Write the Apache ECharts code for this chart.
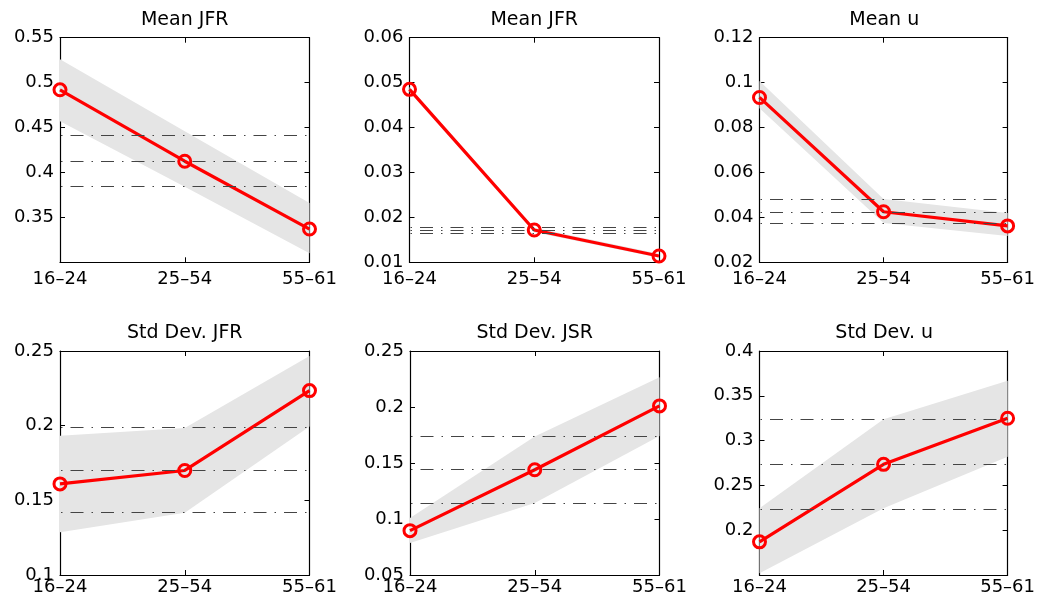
<!DOCTYPE html>
<html>
<head>
<meta charset="utf-8">
<script src="https://cdn.jsdelivr.net/npm/echarts@6/dist/echarts.min.js"></script>
<style>
html,body{margin:0;padding:0;background:#fff;}
#main{width:1038px;height:596px;}
</style>
</head>
<body>
<div id="main"></div>
<script>
// 年龄组
var categories = ['16\u201324', '25\u201354', '55\u201361'];
var titles = ['Mean JFR', 'Mean JFR', 'Mean u', 'Std Dev. JFR', 'Std Dev. JSR', 'Std Dev. u'];

// 模型值
var meanJfrA = [0.492, 0.4125, 0.337];
var meanJfrB = [0.0485, 0.0172, 0.0114];
var meanU = [0.0934, 0.0425, 0.0362];
var sdJfr = [0.161, 0.170, 0.2235];
var sdJsr = [0.0896, 0.144, 0.201];
var sdU = [0.187, 0.2735, 0.325];

// 灰色区间 下沿 / 上沿
var meanJfrALo = [0.457, 0.384, 0.310];
var meanJfrAHi = [0.526, 0.446, 0.366];
var meanJfrBLo = [0.0479, 0.0167, 0.0110];
var meanJfrBHi = [0.0490, 0.0177, 0.0119];
var meanULo = [0.0886, 0.0375, 0.0317];
var meanUHi = [0.1007, 0.0482, 0.0419];
var sdJfrLo = [0.1287, 0.1417, 0.1995];
var sdJfrHi = [0.1933, 0.1984, 0.2467];
var sdJsrLo = [0.0786, 0.1143, 0.1742];
var sdJsrHi = [0.101, 0.1736, 0.2266];
var sdULo = [0.152, 0.2244, 0.282];
var sdUHi = [0.2244, 0.3238, 0.3669];

// 点划线 (数据)
var meanJfrARef = [0.4417, 0.4125, 0.3841];
var meanJfrBRef = [0.0179, 0.0172, 0.0164];
var meanURef = [0.0480, 0.0425, 0.0375];
var sdJfrRef = [0.1988, 0.1699, 0.1417];
var sdJsrRef = [0.1736, 0.144, 0.1143];
var sdURef = [0.3238, 0.2735, 0.2233];

// y轴范围
var yMins = [0.3, 0.01, 0.02, 0.1, 0.05, 0.15];
var yMaxs = [0.55, 0.06, 0.12, 0.25, 0.25, 0.4];
var ySteps = [0.05, 0.01, 0.02, 0.05, 0.05, 0.05];
var hideMin = [true, false, false, false, false, true];

var panels = [
    {model: meanJfrA, lo: meanJfrALo, hi: meanJfrAHi, ref: meanJfrARef},
    {model: meanJfrB, lo: meanJfrBLo, hi: meanJfrBHi, ref: meanJfrBRef},
    {model: meanU, lo: meanULo, hi: meanUHi, ref: meanURef},
    {model: sdJfr, lo: sdJfrLo, hi: sdJfrHi, ref: sdJfrRef},
    {model: sdJsr, lo: sdJsrLo, hi: sdJsrHi, ref: sdJsrRef},
    {model: sdU, lo: sdULo, hi: sdUHi, ref: sdURef}
];

// 布局
var lefts = [60, 409.5, 759.5, 60, 410, 759.5];
var width = 249.5;
var tops = [37.7, 37.7, 37.7, 351, 351, 351];
var height = 224.6;

var font = 'DejaVu Sans';
var grid = [], xAxis = [], yAxis = [], series = [], title = [];

panels.forEach(function(p, i){
    grid.push({left: lefts[i], top: tops[i], width: width, height: height, containLabel: false});
    title.push({
        text: titles[i],
        left: lefts[i] + width / 2,
        top: tops[i] - 27,
        textAlign: 'center',
        padding: 0,
        textStyle: {fontFamily: font, fontSize: 19, fontWeight: 'normal', color: '#000'}
    });
    var tickStyle = {show: true, inside: true, length: 5, lineStyle: {color: '#000', width: 1}};
    var lineStyle = {show: true, onZero: false, lineStyle: {color: '#000', width: 1.2}};
    xAxis.push({
        gridIndex: i, type: 'category', data: categories, boundaryGap: false, position: 'bottom',
        axisLine: lineStyle, axisTick: tickStyle, splitLine: {show: false},
        axisLabel: {fontFamily: font, fontSize: 18, color: '#000', margin: i < 3 ? 8 : 3}
    });
    xAxis.push({
        gridIndex: i, type: 'category', data: categories, boundaryGap: false, position: 'top',
        axisLine: lineStyle, axisTick: tickStyle, splitLine: {show: false}, axisLabel: {show: false}
    });
    var yLab = {
        fontFamily: font, fontSize: 18, color: '#000', margin: 6,
        showMinLabel: !hideMin[i],
        formatter: function(v){ return String(+v.toFixed(3)); }
    };
    yAxis.push({
        gridIndex: i, type: 'value', min: yMins[i], max: yMaxs[i], interval: ySteps[i], position: 'left',
        axisLine: lineStyle, axisTick: tickStyle, splitLine: {show: false}, axisLabel: yLab
    });
    yAxis.push({
        gridIndex: i, type: 'value', min: yMins[i], max: yMaxs[i], interval: ySteps[i], position: 'right',
        axisLine: lineStyle, axisTick: tickStyle, splitLine: {show: false}, axisLabel: {show: false}
    });
    var xi = i * 2, yi = i * 2;
    // 区间下沿
    series.push({
        type: 'line', xAxisIndex: xi, yAxisIndex: yi, data: p.lo, stack: 'band' + i,
        symbol: 'none', lineStyle: {opacity: 0}, silent: true
    });
    // 区间宽度
    series.push({
        type: 'line', xAxisIndex: xi, yAxisIndex: yi, stack: 'band' + i,
        data: p.hi.map(function(v, k){ return v - p.lo[k]; }),
        symbol: 'none', lineStyle: {opacity: 0}, silent: true,
        areaStyle: {color: '#e5e5e5', opacity: 1}
    });
    // 点划线
    series.push({
        type: 'line', xAxisIndex: xi, yAxisIndex: yi, data: [], silent: true,
        markLine: {
            silent: true, symbol: 'none', animation: false, precision: 6,
            label: {show: false},
            lineStyle: {color: '#444', width: 1, type: [13, 8, 1.5, 8], dashOffset: 20},
            data: p.ref.map(function(v){ return {yAxis: v}; })
        }
    });
    // 模型
    series.push({
        type: 'line', xAxisIndex: xi, yAxisIndex: yi, data: p.model,
        lineStyle: {color: '#ff0000', width: 3.2},
        symbol: 'circle', symbolSize: 12, showAllSymbol: true,
        itemStyle: {color: 'rgba(0,0,0,0)', borderColor: '#ff0000', borderWidth: 3}
    });
});

var myChart = echarts.init(document.getElementById('main'));
myChart.setOption({
    animation: false,
    backgroundColor: '#fff',
    title: title,
    grid: grid,
    xAxis: xAxis,
    yAxis: yAxis,
    series: series
});
</script>
</body>
</html>
